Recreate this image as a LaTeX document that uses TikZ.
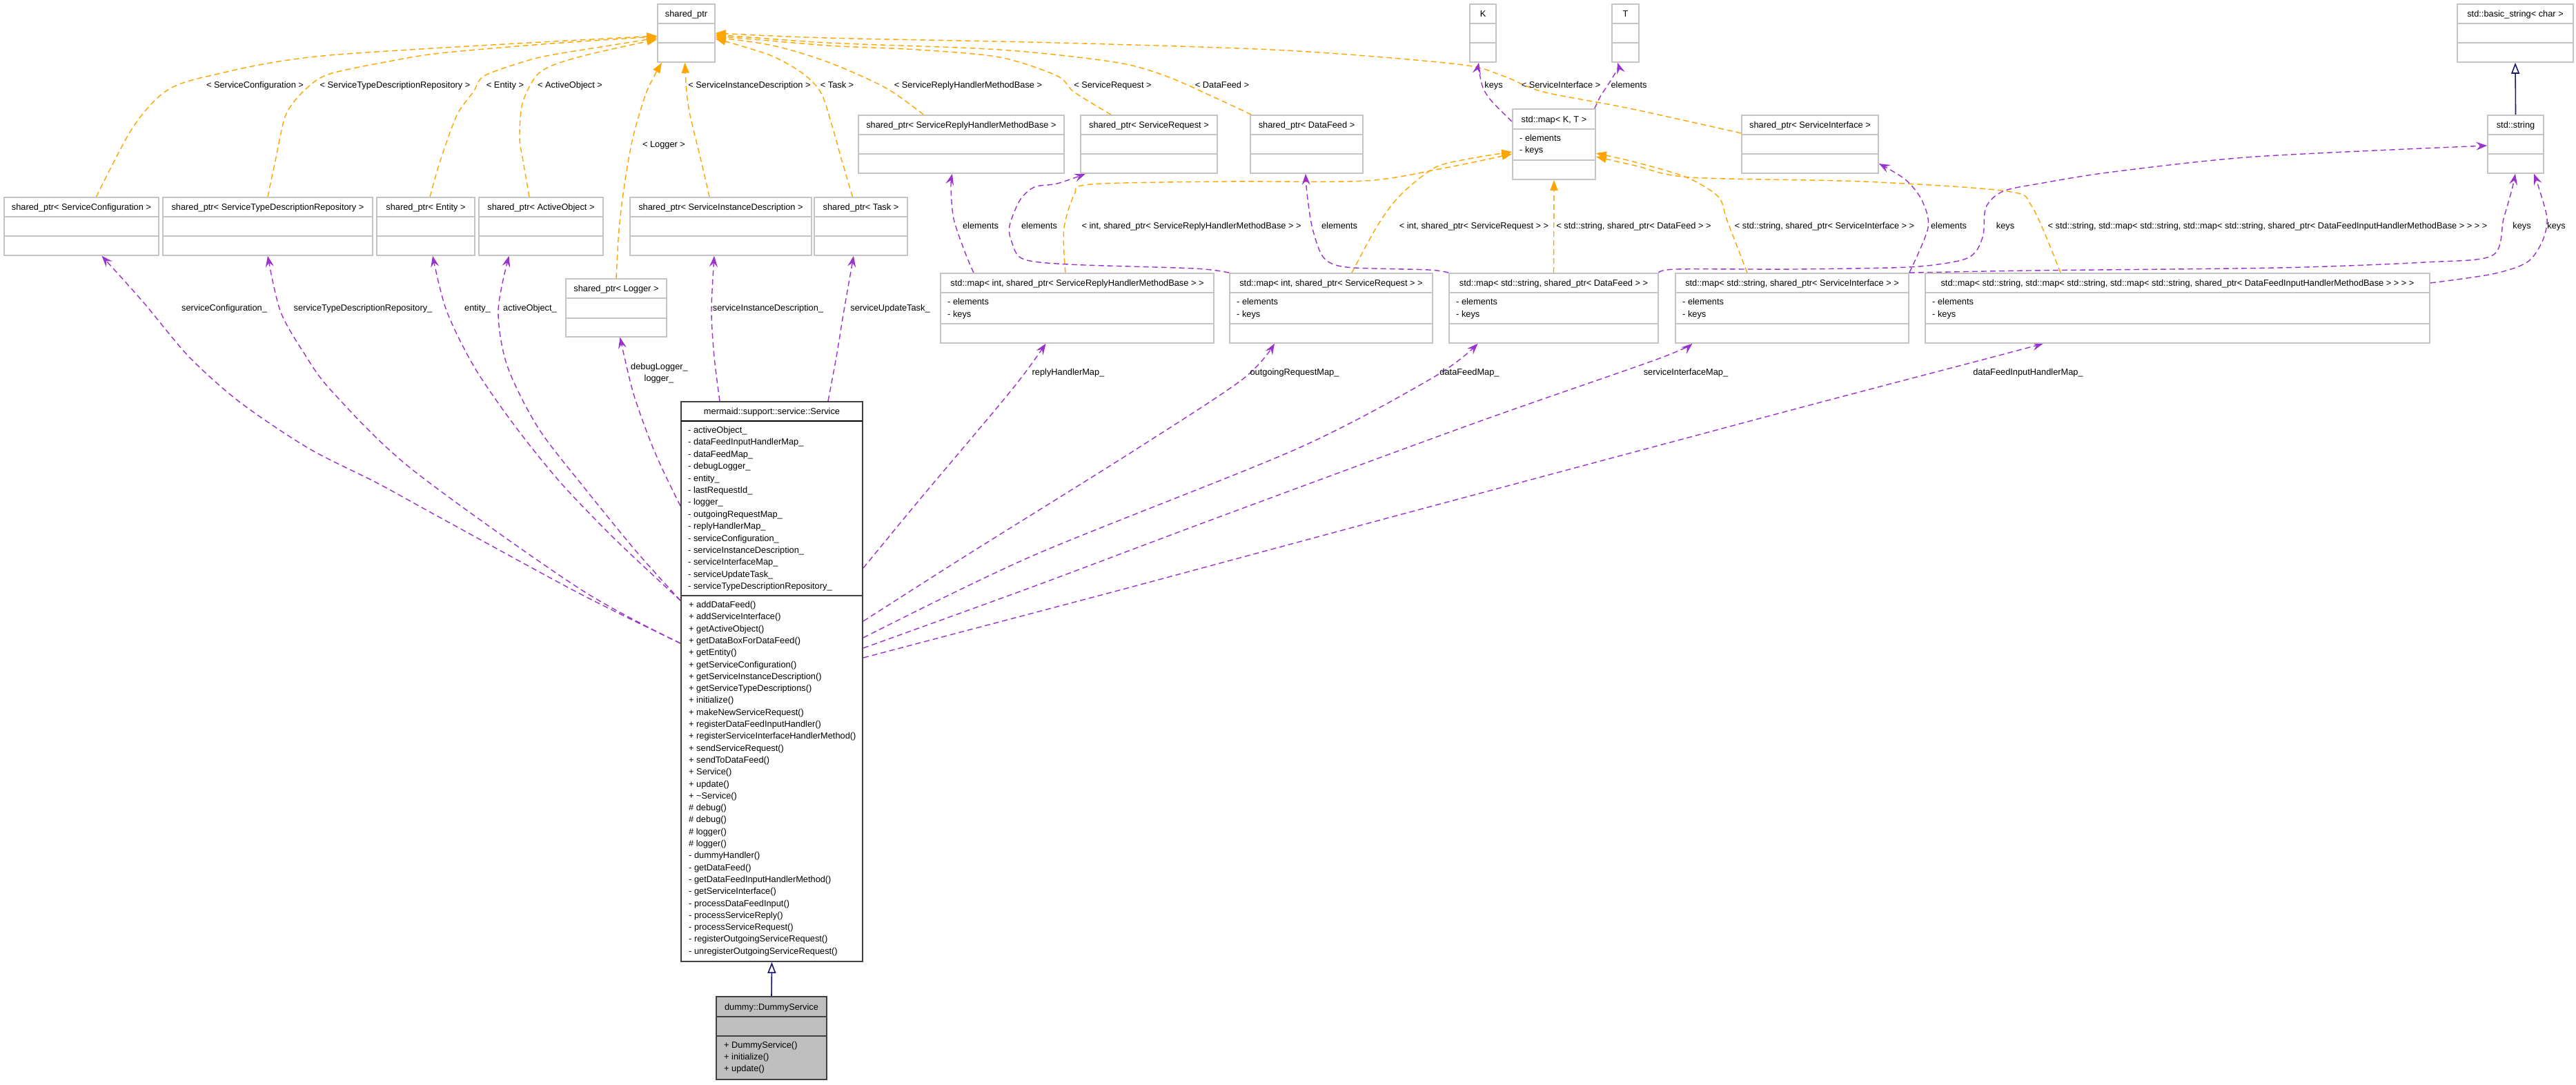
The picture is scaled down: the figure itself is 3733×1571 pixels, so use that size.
\documentclass[tikz,border=0pt]{standalone}
\usepackage{fontspec}
\setmainfont{Liberation Sans}
\usetikzlibrary{arrows.meta,fit}
\definecolor{edgeor}{HTML}{FFA500}
\definecolor{edgepu}{HTML}{9A32CD}
\definecolor{edgenv}{HTML}{191970}
\definecolor{boxgr}{HTML}{C4C4C4}
\definecolor{dumfill}{HTML}{BFBFBF}
\definecolor{svcdark}{HTML}{404040}
\pgfdeclarelayer{paper}
\pgfdeclarelayer{edges}
\pgfsetlayers{paper,edges,main}
\tikzset{
 txt/.style={font=\fontsize{12.8}{15}\selectfont, inner sep=0pt},
 boxfr/.style={draw=boxgr, line width=1.6pt, inner sep=0pt, fill=white},
 divl/.style={draw=boxgr, line width=2pt},
 tmpl/.style={draw=edgeor, line width=1.4pt, dash pattern=on 8pt off 5pt, -{Triangle[length=15pt,width=11pt,fill=edgeor]}},
 uses/.style={draw=edgepu, line width=1.4pt, dash pattern=on 8pt off 5pt, -{Stealth[length=16pt,width=12pt,inset=6pt]}},
 inh/.style={draw=edgenv, line width=1.6pt, -{Triangle[open,length=16pt,width=12pt,fill=white]}},
}
% name, x1, y1, x2, div1, div2, y2, title
\newcommand\classbox[8]{%
 \node[boxfr, fit={(#2,#3) (#4,#7)}] (#1) {};
 \draw[divl] (#2,#5) -- (#4,#5);
 \draw[divl] (#2,#6) -- (#4,#6);
 \node[txt, anchor=base] (#1-t) at ({(#2+#4)/2},{(#3+#5)/2+4.5}) {#8};}
% name, x, y-elements, y-keys
\newcommand\mapattr[4]{%
 \node[txt, anchor=base west] (#1-e) at (#2,{#3+4.5}) {- elements};
 \node[txt, anchor=base west] (#1-k) at (#2,{#4+4.5}) {- keys};}
\newcommand\lbl[4]{\node[txt, anchor=base] (#1) at (#2,{#3+4.5}) {#4};}
\begin{document}
\begin{tikzpicture}[x=1pt,y=-1pt]
\begin{pgfonlayer}{paper}
\fill[white] (0,0) rectangle (3733,1571);
\end{pgfonlayer}
\useasboundingbox (0,0) rectangle (3733,1571);

% ---- top row
\classbox{sp}{953}{6}{1036}{34}{62}{90}{shared\_ptr}
\classbox{ktp}{2130}{6}{2168}{34}{62}{90}{K}
\classbox{ttp}{2336}{6}{2375}{34}{62}{90}{T}
\classbox{bs}{3561}{6}{3729}{34}{62}{90}{std::basic\_string< char >}

% ---- second row
\classbox{psrh}{1244}{167}{1542}{195}{223}{251}{shared\_ptr< ServiceReplyHandlerMethodBase >}
\classbox{psr}{1566}{167}{1764}{195}{223}{251}{shared\_ptr< ServiceRequest >}
\classbox{pdf}{1812}{167}{1975}{195}{223}{251}{shared\_ptr< DataFeed >}
\classbox{mkt}{2192}{158}{2312}{187}{232}{260}{std::map< K, T >}
\mapattr{mkt}{2202}{200}{217}
\classbox{psi}{2524}{167}{2722}{195}{223}{251}{shared\_ptr< ServiceInterface >}
\classbox{str}{3605}{167}{3686}{195}{223}{251}{std::string}

% ---- third row
\classbox{sc}{6}{286}{230}{314}{342}{370}{shared\_ptr< ServiceConfiguration >}
\classbox{stdr}{236}{286}{540}{314}{342}{370}{shared\_ptr< ServiceTypeDescriptionRepository >}
\classbox{ent}{546}{286}{688}{314}{342}{370}{shared\_ptr< Entity >}
\classbox{ao}{694}{286}{874}{314}{342}{370}{shared\_ptr< ActiveObject >}
\classbox{sid}{913}{286}{1176}{314}{342}{370}{shared\_ptr< ServiceInstanceDescription >}
\classbox{task}{1180}{286}{1315}{314}{342}{370}{shared\_ptr< Task >}
\classbox{log}{820}{404}{966}{432}{461}{488}{shared\_ptr< Logger >}

% ---- maps row
\classbox{msrh}{1363}{396}{1759}{424}{469}{497}{std::map< int, shared\_ptr< ServiceReplyHandlerMethodBase > >}
\mapattr{msrh}{1373}{437}{455}
\classbox{msr}{1782}{396}{2076}{424}{469}{497}{std::map< int, shared\_ptr< ServiceRequest > >}
\mapattr{msr}{1792}{437}{455}
\classbox{mdf}{2100}{396}{2403}{424}{469}{497}{std::map< std::string, shared\_ptr< DataFeed > >}
\mapattr{mdf}{2110}{437}{455}
\classbox{msi}{2428}{396}{2766}{424}{469}{497}{std::map< std::string, shared\_ptr< ServiceInterface > >}
\mapattr{msi}{2438}{437}{455}
\classbox{mdfi}{2790}{396}{3521}{424}{469}{497}{std::map< std::string, std::map< std::string, std::map< std::string, shared\_ptr< DataFeedInputHandlerMethodBase > > > >}
\mapattr{mdfi}{2800}{437}{455}

% ---- Service
\node[draw=svcdark, line width=2pt, inner sep=0pt, fill=white, fit={(987,582) (1250,1393)}] (svc) {};
\draw[black, line width=2.6pt] (987,610) -- (1250,610);
\draw[svcdark, line width=2pt] (987,863) -- (1250,863);
\node[txt, anchor=base] (svc-t) at (1118.5,600.5) {mermaid::support::service::Service};
\foreach \s [count=\i from 0] in {activeObject,dataFeedInputHandlerMap,dataFeedMap,debugLogger,entity,lastRequestId,logger,outgoingRequestMap,replyHandlerMap,serviceConfiguration,serviceInstanceDescription,serviceInterfaceMap,serviceUpdateTask,serviceTypeDescriptionRepository}
  \node[txt, anchor=base west] (svc-a\i) at (997,{627.5+\i*17.4}) {- \s\_};
\foreach \p/\s [count=\i from 0] in {+/addDataFeed,+/addServiceInterface,+/getActiveObject,+/getDataBoxForDataFeed,+/getEntity,+/getServiceConfiguration,+/getServiceInstanceDescription,+/getServiceTypeDescriptions,+/initialize,+/makeNewServiceRequest,+/registerDataFeedInputHandler,+/registerServiceInterfaceHandlerMethod,+/sendServiceRequest,+/sendToDataFeed,+/Service,+/update,+/\textasciitilde Service,\#/debug,\#/debug,\#/logger,\#/logger,-/dummyHandler,-/getDataFeed,-/getDataFeedInputHandlerMethod,-/getServiceInterface,-/processDataFeedInput,-/processServiceReply,-/processServiceRequest,-/registerOutgoingServiceRequest,-/unregisterOutgoingServiceRequest}
  \node[txt, anchor=base west] (svc-m\i) at (998,{880.5+\i*17.3}) {\p\ \s()};

% ---- DummyService
\node[draw=svcdark, line width=2pt, inner sep=0pt, fill=dumfill, fit={(1038,1444) (1198,1564)}] (dum) {};
\draw[svcdark, line width=2pt] (1038,1473) -- (1198,1473);
\draw[svcdark, line width=2pt] (1038,1501) -- (1198,1501);
\node[txt, anchor=base] (dum-t) at (1118,1463) {dummy::DummyService};
\node[txt, anchor=base west] (dum-m0) at (1049,1518) {+ DummyService()};
\node[txt, anchor=base west] (dum-m1) at (1049,1535.3) {+ initialize()};
\node[txt, anchor=base west] (dum-m2) at (1049,1552.6) {+ update()};

% ================= edges
\begin{pgfonlayer}{edges}
% template instantiation edges to shared_ptr
\draw[tmpl] plot[smooth] coordinates {([xshift=21.5pt]sc.north) (191,187) (239,133) (303,110) (478,80) ([yshift=-4pt]sp.west)};
\draw[tmpl] plot[smooth] coordinates {(stdr.north) (399,233) (414,167) (440,132) (475,108) (558,90) (638,77) (800,63) ([yshift=-5pt]sp.west)};
\draw[tmpl] plot[smooth] coordinates {([xshift=6pt]ent.north) (638,233) (662,167) (686,133) (701.5,110) (757,90) (797,80) (877,67) ([yshift=-7pt]sp.west)};
\draw[tmpl] plot[smooth] coordinates {([xshift=-17pt]ao.north) (758,233) (753,200) (757,150) (777,110) (805,93) (861,77) ([yshift=-9pt]sp.west)};
\draw[tmpl] plot[smooth] coordinates {(log.north) (897,333) (905,267) (917,200) (937,133) ([xshift=-35.5pt]sp.south)};
\draw[tmpl] plot[smooth] coordinates {([xshift=-16.5pt]sid.north) (1016,233) (1000,167) (995,133) ([xshift=-2pt]sp.south)};
\draw[tmpl] plot[smooth] coordinates {([xshift=-12pt]task.north) (1220,233) (1206,183) (1190,135) (1164,107) (1116,80) ([yshift=-8pt]sp.east)};
\draw[tmpl] plot[smooth] coordinates {([xshift=-54.5pt]psrh.north) (1283,127) (1200,90) (1120,66) ([yshift=-6pt]sp.east)};
\draw[tmpl] plot[smooth] coordinates {([xshift=-55pt]psr.north) (1556,133) (1532,110) (1449,83) (1330,72) (1200,66) ([yshift=-4pt]sp.east)};
\draw[tmpl] plot[smooth] coordinates {([xshift=-80pt]pdf.north) (1764,143) (1689,110) (1615,90) (1449,72) (1200,62) ([yshift=-2pt]sp.east)};
\draw[tmpl] plot[smooth] coordinates {([yshift=16pt]psi.west) (2361,157) (2236,133) (2178,110) (2112,93) (1863,73) (1532,62) (1200,55) (sp.east)};
% template instantiation edges to std::map<K,T>
\draw[tmpl] plot[smooth] coordinates {([xshift=-17pt]msrh.north) (1541.6,333) (1556.5,283) (1581,267) (1780,263) (1979,262) (2095.5,243) ([yshift=-14pt]mkt.west)};
\draw[tmpl] plot[smooth] coordinates {([xshift=30pt]msr.north) (1996,327) (2029,283) (2079,243) (2129,230) ([yshift=-11pt]mkt.west)};
\draw[tmpl] (mdf.north) -- (mkt.south);
\draw[tmpl] plot[smooth] coordinates {([xshift=-65pt]msi.north) (2503,320) (2490,285) (2444,257) (2370,235) ([yshift=-13pt]mkt.east)};
\draw[tmpl] plot[smooth] coordinates {([xshift=-169.5pt]mdfi.north) (2945,300) (2908,277) (2700,263) (2450,257) (2370,240) ([yshift=-18pt]mkt.east)};

% usage edges of std::map<K,T>
\draw[uses] plot[smooth] coordinates {([yshift=-19pt]mkt.north west) (2162,147) (2149,127) (2143,100) ([xshift=-6pt]ktp.south)};
\draw[uses] plot[smooth] coordinates {([xshift=-2pt]mkt.north east) (2319,140) (2332,120) (2344,100) ([xshift=-11.5pt]ttp.south)};

% usage edges of Service
\draw[uses] plot[smooth] coordinates {([yshift=55.5pt]svc.west) (840,860) (638,750) (547,700) (448,650) (348,583) (274,517) (207,437) ([xshift=29.5pt]sc.south)};
\draw[uses] plot[smooth] coordinates {([yshift=55.5pt]svc.west) (840,853) (597,680) (481,567) (439.5,510) (406,450) (stdr.south)};
\draw[uses] plot[smooth] coordinates {([yshift=117.5pt]svc.west) (893,783) (813,700) (746,617) (688,533) (647,450) ([xshift=10pt]ent.south)};
\draw[uses] plot[smooth] coordinates {([yshift=117.5pt]svc.west) (923,800) (847,707) (780,620) (735,530) (722,450) ([xshift=-46.5pt]ao.south)};
\draw[uses] plot[smooth] coordinates {([yshift=254.5pt]svc.west) (960,680) (940,633) (917,567) ([xshift=5.5pt]log.south)};
\draw[uses] plot[smooth] coordinates {([xshift=-75.5pt]svc.north) (1035,517) (1031,450) ([xshift=-9.5pt]sid.south)};
\draw[uses] plot[smooth] coordinates {([xshift=81.5pt]svc.north) (1212,517) (1223,450) ([xshift=-10.5pt]task.south)};
\draw[uses] plot[smooth] coordinates {([yshift=164.5pt]svc.east) (1330,727) (1466,565) ([xshift=-45.5pt]msrh.south)};
\draw[uses] plot[smooth] coordinates {([yshift=87.5pt]svc.east) (1400,805) (1640,655) (1800,550) ([xshift=-82pt]msr.south)};
\draw[uses] plot[smooth] coordinates {([yshift=63.5pt]svc.east) (1497,805) (1880,650) (2080,545) ([xshift=-110pt]mdf.south)};
\draw[uses] plot[smooth] coordinates {([yshift=48.5pt]svc.east) (1497,850) (1764,750) (2137,613) (2400,521) ([xshift=-144.5pt]msi.south)};
\draw[uses] plot[smooth] coordinates {([yshift=34.5pt]svc.east) (1630,853) (2013,750) (2600,593) (2889,517) ([xshift=-194.5pt]mdfi.south)};

% usage edges of the maps
\draw[uses] plot[smooth] coordinates {([xshift=-150pt]msrh.north) (1399,367) (1382,317) (1378,270) ([xshift=-13pt]psrh.south)};
\draw[uses] plot[smooth] coordinates {(msr.north west) (1731,389) (1548,383) (1482,375) (1466,350) (1463,327) (1478,290) (1499,271) (1532,266) ([xshift=-92pt]psr.south)};
\draw[uses] plot[smooth] coordinates {(mdf.north west) (2071,391) (1963,388) (1930,382) (1914,367) (1901,327) (1894,280) ([xshift=-1.5pt]pdf.south)};
\draw[uses] plot[smooth] coordinates {(msi.north east) (2794,330) (2785,290) (2761,260) ([yshift=-28pt]psi.east)};
\draw[uses] plot[smooth] coordinates {(mdf.north east) (2430,390) (2600,390) (2766,387) (2838,378) (2862,366) (2874,340) (2878,300) (2903,277) (2961,265) (3062,249) (3268,227) ([yshift=-2pt]str.west)};
\draw[uses] plot[smooth] coordinates {(msi.north east) (2941,392) (3300,388) (3514,380) (3612,370) (3628,317) (3640,275) ([xshift=-0.5pt]str.south)};
\draw[uses] plot[smooth] coordinates {([yshift=36.5pt]mdfi.east) (3612,397) (3662,380) (3684,350) (3691,317) (3680,275) ([xshift=26.5pt]str.south)};

% inheritance
\draw[inh] (str.north) -- (bs.south);
\draw[inh] (dum.north) -- (svc.south);
\end{pgfonlayer}

% ================= labels
\lbl{l1}{369.5}{123}{< ServiceConfiguration >}
\lbl{l2}{572.5}{123}{< ServiceTypeDescriptionRepository >}
\lbl{l3}{732}{123}{< Entity >}
\lbl{l4}{826}{123}{< ActiveObject >}
\lbl{l5}{962}{209}{< Logger >}
\lbl{l6}{1086}{123}{< ServiceInstanceDescription >}
\lbl{l7}{1213}{123}{< Task >}
\lbl{l8}{1403}{123}{< ServiceReplyHandlerMethodBase >}
\lbl{l9}{1612.5}{123}{< ServiceRequest >}
\lbl{l10}{1771}{123}{< DataFeed >}
\lbl{l11}{2262}{123}{< ServiceInterface >}
\lbl{l12}{1726.6}{327}{< int, shared\_ptr< ServiceReplyHandlerMethodBase > >}
\lbl{l13}{2136}{327}{< int, shared\_ptr< ServiceRequest > >}
\lbl{l14}{2367.5}{327}{< std::string, shared\_ptr< DataFeed > >}
\lbl{l15}{2644}{327}{< std::string, shared\_ptr< ServiceInterface > >}
\lbl{l16}{3286}{327}{< std::string, std::map< std::string, std::map< std::string, shared\_ptr< DataFeedInputHandlerMethodBase > > > >}
\lbl{u1}{2164.5}{123}{keys}
\lbl{u2}{2360.5}{123}{elements}
\lbl{u3}{1421}{327}{elements}
\lbl{u4}{1506}{327}{elements}
\lbl{u5}{1941}{327}{elements}
\lbl{u6}{2824}{327}{elements}
\lbl{u7}{2906}{327}{keys}
\lbl{u8}{3654.5}{327}{keys}
\lbl{u9}{3704.5}{327}{keys}
\lbl{u10}{325}{446}{serviceConfiguration\_}
\lbl{u11}{526}{446}{serviceTypeDescriptionRepository\_}
\lbl{u12}{692}{446}{entity\_}
\lbl{u13}{768}{446}{activeObject\_}
\lbl{u14}{1113}{446}{serviceInstanceDescription\_}
\lbl{u15}{1290}{446}{serviceUpdateTask\_}
\lbl{u16}{955.5}{531}{debugLogger\_}
\lbl{u17}{955}{548}{logger\_}
\lbl{u18}{1548}{539}{replyHandlerMap\_}
\lbl{u19}{1876}{539}{outgoingRequestMap\_}
\lbl{u20}{2129.5}{539}{dataFeedMap\_}
\lbl{u21}{2443}{539}{serviceInterfaceMap\_}
\lbl{u22}{2939}{539}{dataFeedInputHandlerMap\_}
\end{tikzpicture}
\end{document}
